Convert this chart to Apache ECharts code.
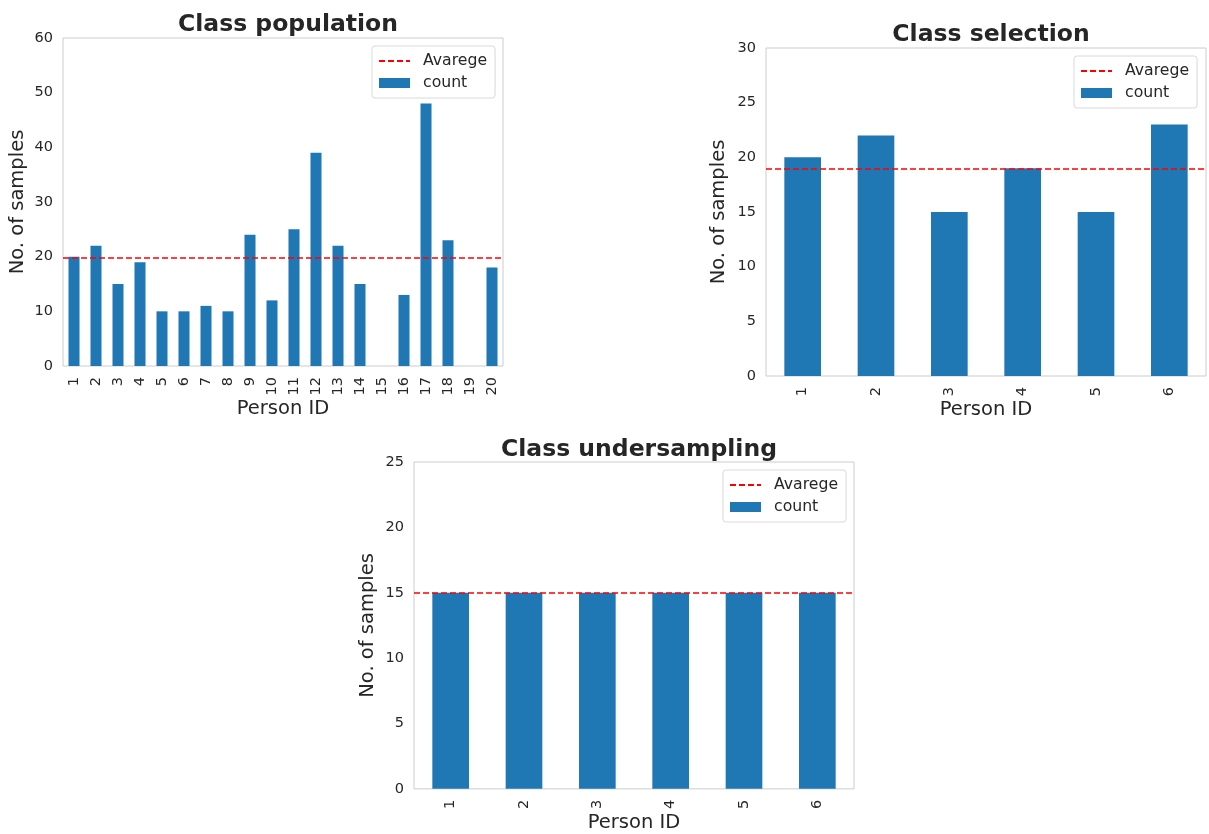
<!DOCTYPE html>
<html>
<head>
<meta charset="utf-8">
<script src="https://cdn.jsdelivr.net/npm/echarts@6/dist/echarts.min.js"></script>
<style>
  html, body { margin: 0; padding: 0; background: #ffffff; }
  #chart { width: 1209px; height: 834px; }
</style>
</head>
<body>
<div id="chart"></div>
<script>
// Samples per person at each stage of the dataset preparation
const populationIds = ['1','2','3','4','5','6','7','8','9','10','11','12','13','14','15','16','17','18','19','20'];
const populationCounts = [20, 22, 15, 19, 10, 10, 11, 10, 24, 12, 25, 39, 22, 15, null, 13, 48, 23, null, 18];

const selectionIds = ['1','2','3','4','5','6'];
const selectionCounts = [20, 22, 15, 19, 15, 23];

const undersamplingIds = ['1','2','3','4','5','6'];
const undersamplingCounts = [15, 15, 15, 15, 15, 15];

const panelTitles = ['Class population', 'Class selection', 'Class undersampling'];
const yMax = [60, 30, 25];
const yStep = [10, 5, 5];

const TEXT = '#262626';
const EDGE = '#cccccc';
const BAR = '#1f77b4';
const FONT = 'DejaVu Sans';

// mean over the persons that actually have samples
function mean(values) {
  const v = values.filter(x => x !== null && x !== undefined);
  return v.reduce((a, b) => a + b, 0) / v.length;
}

const panels = [
  { ids: populationIds, counts: populationCounts, grid: { left: 63, top: 38, width: 440, height: 328 }, titleTop: 8, legend: { left: 372, top: 46 }, yNameGap: 35, xNameGap: 31 },
  { ids: selectionIds, counts: selectionCounts, grid: { left: 766, top: 48, width: 440, height: 328 }, titleTop: 18, legend: { left: 1074, top: 56 }, yNameGap: 37, xNameGap: 22 },
  { ids: undersamplingIds, counts: undersamplingCounts, grid: { left: 414, top: 462, width: 440, height: 327 }, titleTop: 433, legend: { left: 723, top: 470 }, yNameGap: 36, xNameGap: 23 }
];

const option = {
  animation: false,
  backgroundColor: '#ffffff',
  textStyle: { fontFamily: FONT, color: TEXT },
  title: [], grid: [], xAxis: [], yAxis: [], legend: [], series: []
};

panels.forEach((p, i) => {
  option.title.push({
    text: panelTitles[i],
    left: p.grid.left + p.grid.width / 2,
    top: p.titleTop,
    textAlign: 'center',
    textStyle: { fontFamily: FONT, fontSize: 23.5, fontWeight: 'bold', color: TEXT }
  });
  option.grid.push(Object.assign({ show: true, borderColor: EDGE, borderWidth: 1, backgroundColor: '#ffffff', containLabel: false }, p.grid));
  option.xAxis.push({
    type: 'category', gridIndex: i, data: p.ids,
    name: 'Person ID', nameLocation: 'middle', nameGap: p.xNameGap,
    nameTextStyle: { fontFamily: FONT, fontSize: 19.5, color: TEXT },
    axisLine: { show: false }, axisTick: { show: false }, splitLine: { show: false },
    axisLabel: { rotate: 90, interval: 0, margin: 11, fontFamily: FONT, fontSize: 14.5, color: TEXT }
  });
  option.yAxis.push({
    type: 'value', gridIndex: i, min: 0, max: yMax[i], interval: yStep[i],
    name: 'No. of samples', nameLocation: 'middle', nameGap: p.yNameGap,
    nameTextStyle: { fontFamily: FONT, fontSize: 19.5, color: TEXT },
    axisLine: { show: false }, axisTick: { show: false }, splitLine: { show: false },
    axisLabel: { margin: 10, fontFamily: FONT, fontSize: 14.5, color: TEXT }
  });
  option.legend.push({
    orient: 'vertical', left: p.legend.left, top: p.legend.top,
    data: [
      { name: 'Avarege', itemStyle: { opacity: 0 } },
      { name: 'count', icon: 'rect' }
    ],
    itemWidth: 31, itemHeight: 10, itemGap: 6,
    padding: [7, 8, 7, 6],
    borderColor: '#d9d9d9', borderWidth: 1, borderRadius: 3, backgroundColor: 'rgba(255,255,255,0.8)',
    selectedMode: false,
    textStyle: { fontFamily: FONT, fontSize: 15.7, color: TEXT, padding: [0, 0, 0, 8] }
  });
  option.series.push({
    name: 'count', type: 'bar', xAxisIndex: i, yAxisIndex: i,
    data: p.counts, barWidth: '50%',
    itemStyle: { color: BAR },
    markLine: {
      silent: true, symbol: 'none', label: { show: false },
      lineStyle: { color: '#ff0000', type: [6, 3], width: 1.5 },
      data: [{ yAxis: mean(p.counts) }]
    },
    z: 2
  });
  option.series.push({
    name: 'Avarege', type: 'line', xAxisIndex: i, yAxisIndex: i,
    data: [], symbol: 'none',
    itemStyle: { color: '#ff0000' },
    lineStyle: { color: '#ff0000', type: [6, 3], width: 1.5 }
  });
});

const chart = echarts.init(document.getElementById('chart'), null, { renderer: 'canvas' });
chart.setOption(option);
</script>
</body>
</html>
